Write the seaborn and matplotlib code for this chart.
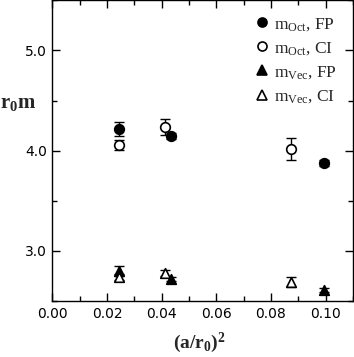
import numpy as np
import pandas as pd
import matplotlib
matplotlib.use("Agg")
import matplotlib.pyplot as plt
import matplotlib.ticker as ticker
from matplotlib.lines import Line2D
import seaborn as sns

# data
oct_fp_x = [0.0245, 0.0435, 0.0995]
oct_fp_y = [4.22, 4.15, 3.88]
oct_fp_err = [0.07, 0.03, 0.03]

oct_ci_x = [0.0245, 0.0413, 0.0873]
oct_ci_y = [4.06, 4.24, 4.02]
oct_ci_err = [0.05, 0.08, 0.11]

vec_fp_x = [0.0245, 0.0435, 0.0995]
vec_fp_y = [2.80, 2.72, 2.61]
vec_fp_err = [0.05, 0.02, 0.02]

vec_ci_x = [0.0245, 0.0413, 0.0873]
vec_ci_y = [2.74, 2.78, 2.69]
vec_ci_err = [0.03, 0.03, 0.05]

labels = [r"m$_{\mathrm{Oct}}$, FP", r"m$_{\mathrm{Oct}}$, CI",
          r"m$_{\mathrm{Vec}}$, FP", r"m$_{\mathrm{Vec}}$, CI"]

if __name__ == '__main__':
    sns.set_style("ticks")
    plt.rcParams['font.family'] = ['DejaVu Sans']
    plt.rcParams['mathtext.fontset'] = 'custom'
    plt.rcParams['mathtext.rm'] = 'Liberation Serif'
    plt.rcParams['mathtext.it'] = 'Liberation Serif:italic'
    plt.rcParams['mathtext.bf'] = 'Liberation Serif:bold'

    frames = []
    for lab, xs, ys, es in zip(labels,
                               [oct_fp_x, oct_ci_x, vec_fp_x, vec_ci_x],
                               [oct_fp_y, oct_ci_y, vec_fp_y, vec_ci_y],
                               [oct_fp_err, oct_ci_err, vec_fp_err, vec_ci_err]):
        frames.append(pd.DataFrame({"x": xs, "y": ys, "err": es, "series": lab}))
    df = pd.concat(frames, ignore_index=True)

    styles = {
        labels[0]: dict(marker="o", mfc="black"),
        labels[1]: dict(marker="o", mfc="white"),
        labels[2]: dict(marker="^", mfc="black"),
        labels[3]: dict(marker="^", mfc="white"),
    }

    fig, ax = plt.subplots(figsize=(3.54, 3.57), dpi=100)
    fig.subplots_adjust(left=0.148, right=0.997, bottom=0.157, top=0.999)

    handles = []
    for lab in labels:
        d = df[df.series == lab]
        ax.errorbar(d.x, d.y, yerr=d.err, fmt="none", ecolor="black",
                    elinewidth=1.0, capsize=3.8, capthick=1.0, zorder=2)
        st = styles[lab]
        sns.scatterplot(x="x", y="y", data=d, ax=ax, marker=st["marker"],
                        color=st["mfc"], edgecolor="black", linewidth=1.2,
                        s=48, zorder=3, legend=False)
        handles.append(Line2D([], [], linestyle="none", marker=st["marker"],
                              mfc=st["mfc"], mec="black", mew=1.2, ms=6.5))

    ax.set_xlim(0, 0.11)
    ax.set_ylim(2.5, 5.5)
    ax.xaxis.set_major_locator(ticker.MultipleLocator(0.02))
    ax.xaxis.set_minor_locator(ticker.MultipleLocator(0.01))
    ax.yaxis.set_major_locator(ticker.FixedLocator([3.0, 4.0, 5.0]))
    ax.yaxis.set_minor_locator(ticker.MultipleLocator(0.5))
    ax.xaxis.set_major_formatter(ticker.FormatStrFormatter('%.2f'))
    ax.yaxis.set_major_formatter(ticker.FormatStrFormatter('%.1f'))
    ax.tick_params(which="both", direction="in", top=True, right=True,
                   color="black", width=1.0, labelsize=10, labelcolor="black")
    ax.tick_params(which="major", length=6, pad=4)
    ax.tick_params(which="minor", length=3.5)
    for sp in ax.spines.values():
        sp.set_color("black")
        sp.set_linewidth(1.0)

    ax.set_xlabel(r"(a/r$_{\mathbf{0}}$)$^{\mathbf{2}}$", fontfamily="Liberation Serif",
                  fontweight="bold", fontsize=14)
    ax.set_ylabel(r"r$_{\mathbf{0}}$m", fontfamily="Liberation Serif",
                  fontweight="bold", fontsize=15, rotation=0)
    ax.yaxis.set_label_coords(-0.115, 0.625)
    ax.xaxis.set_label_coords(0.49, -0.1)

    ax.legend(handles, labels, loc="upper right", frameon=False,
              prop={"family": "Liberation Serif", "size": 12.5},
              handletextpad=0.1, labelspacing=0.42, borderaxespad=0.5,
              handlelength=1.2)

    fig.savefig("out.png", dpi=100)
